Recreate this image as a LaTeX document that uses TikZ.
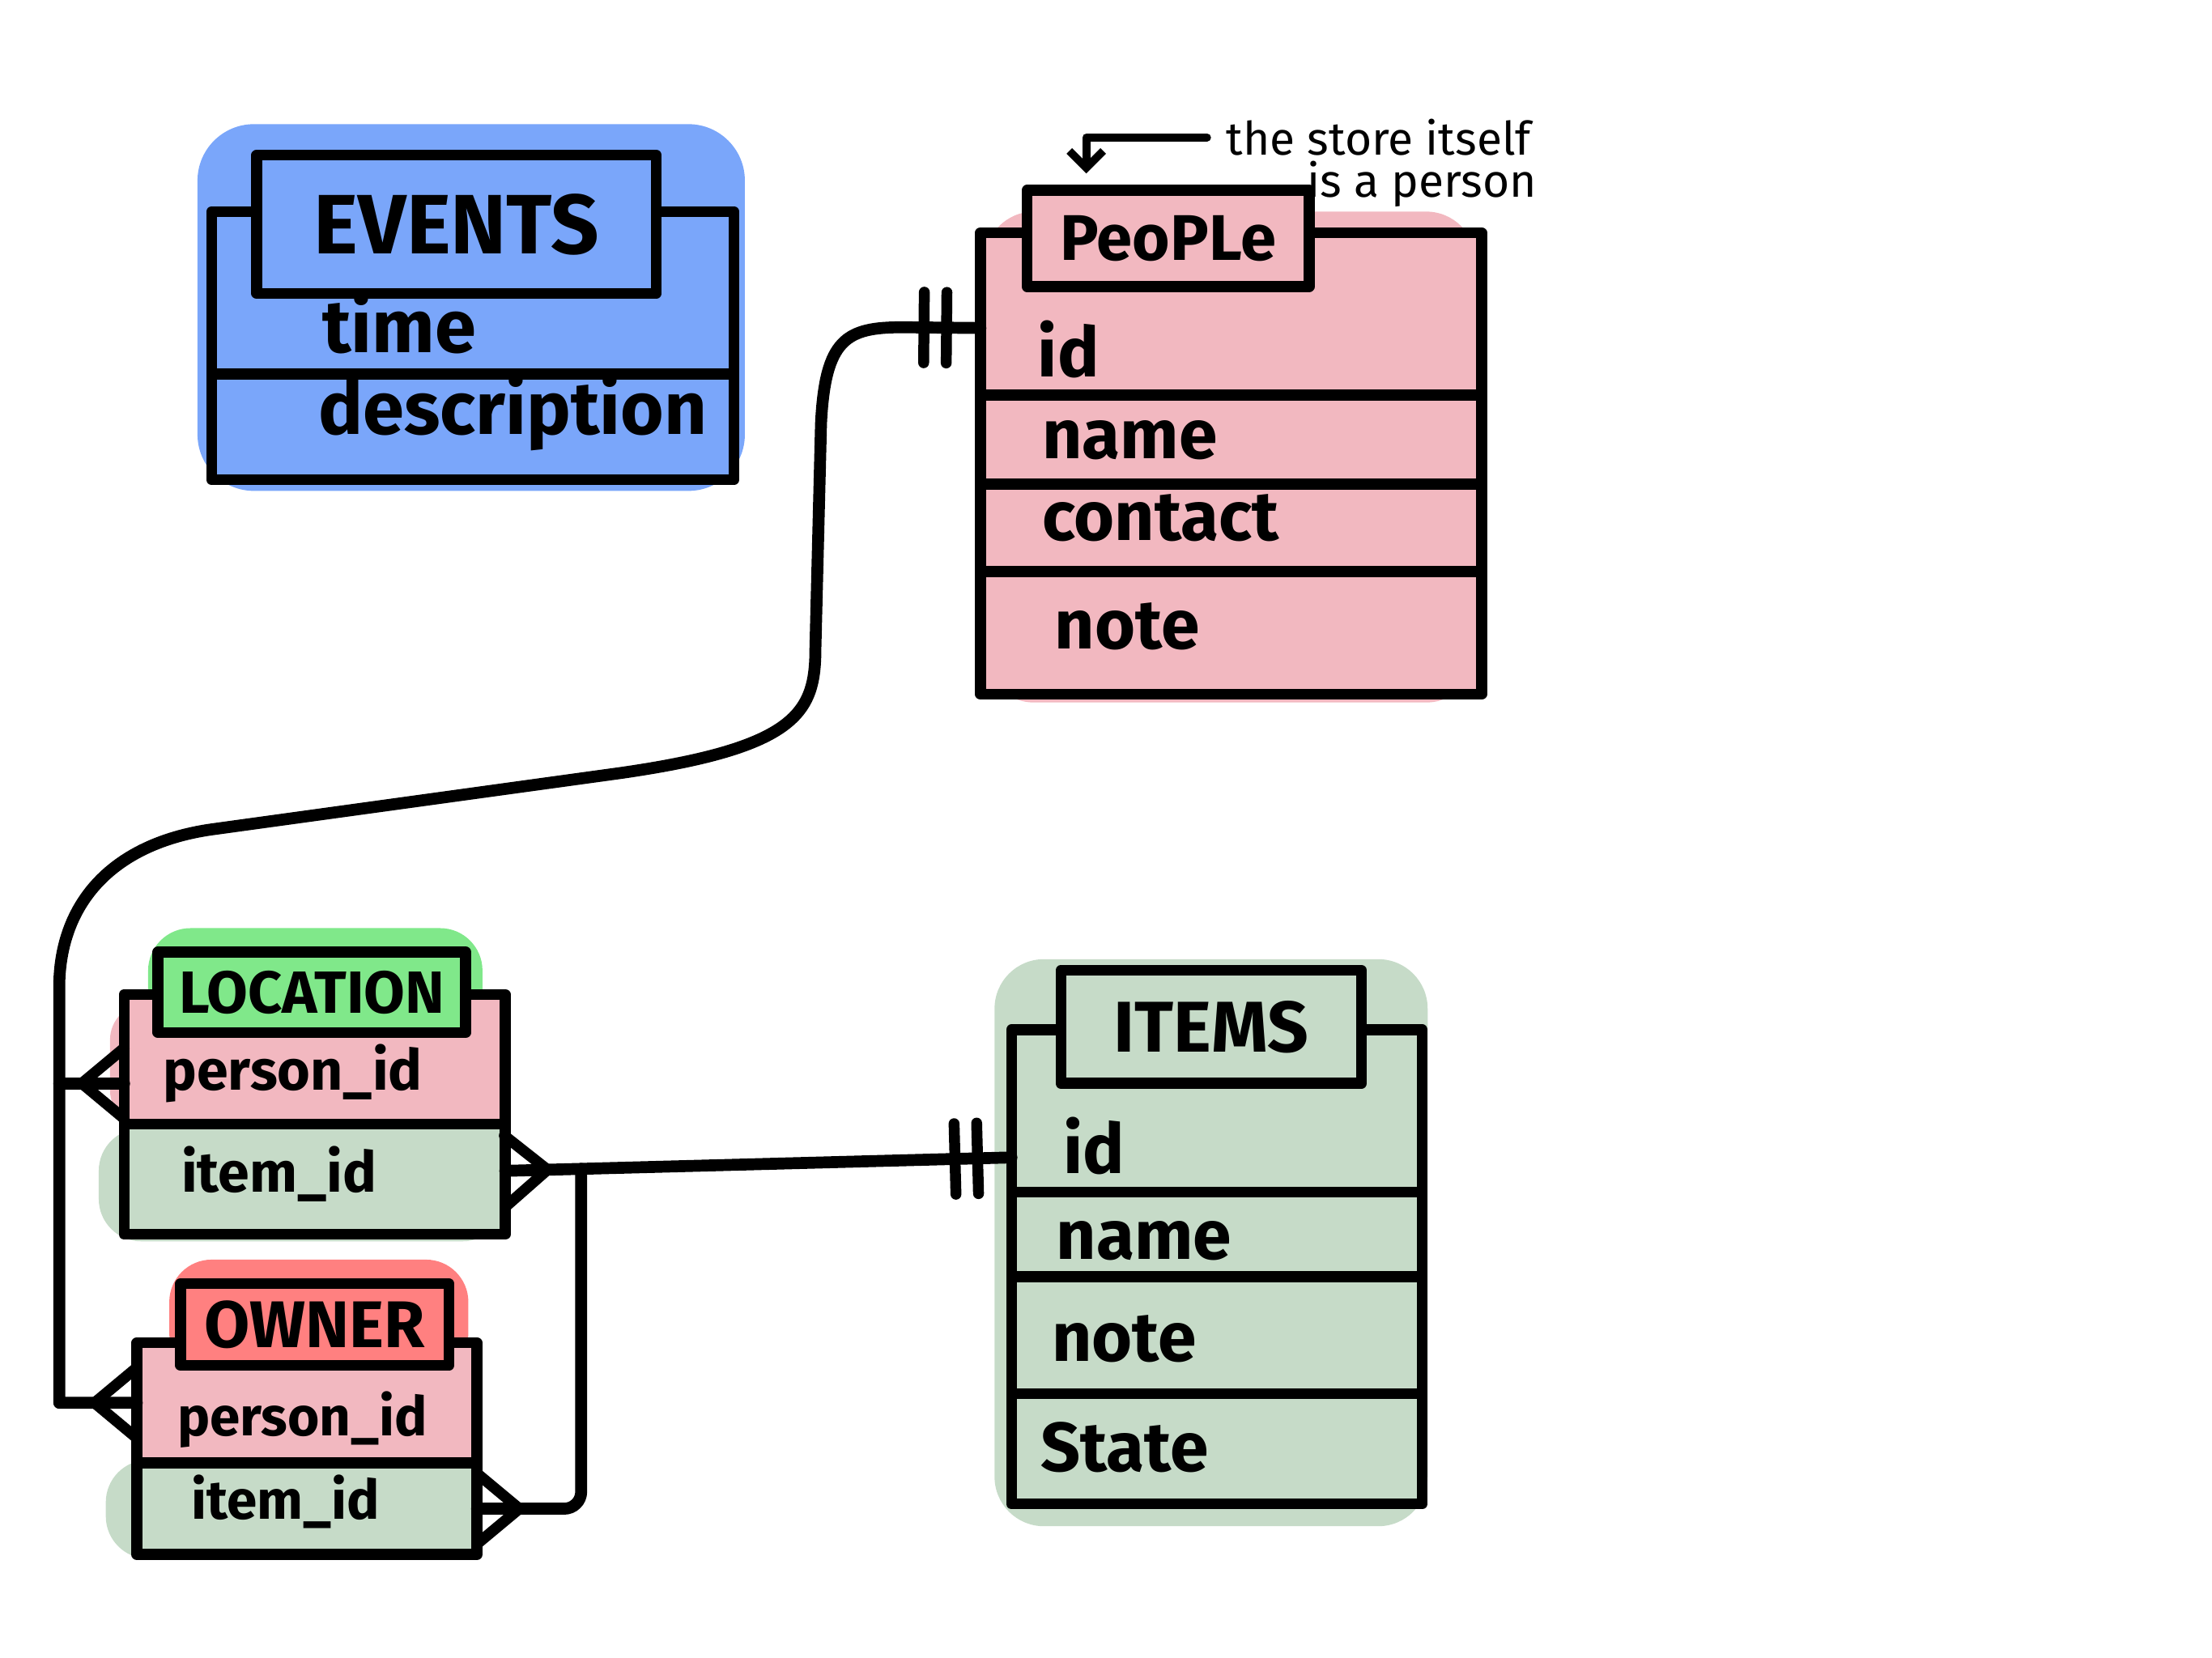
\documentclass[tikz,border=0pt]{standalone}
\usepackage{fontspec}
\setmainfont{Fira Sans}
\usepackage{tikz}
\usetikzlibrary{ arrows.meta, calc, positioning, decorations.markings }
\definecolor{evblue}{RGB}{122,166,250}
\definecolor{ppink}{RGB}{242,184,192}
\definecolor{sage}{RGB}{198,219,200}
\definecolor{locgreen}{RGB}{128,232,138}
\definecolor{ownred}{RGB}{255,128,128}
\tikzset{
ink/.style={line width=2.2pt, line join=round, line cap=round}, % marker stroke
row/.style={draw, ink, inner sep=0pt, outer sep=0pt, anchor=north west}, % one row of a table
hdr/.style={draw, ink, inner sep=0pt, outer sep=0pt, anchor=north west,
  font=\bfseries\fontsize{#1}{#1}\selectfont}, % table name box
fld/.style={anchor=base west, inner sep=0pt, font=\bfseries\fontsize{#1}{#1}\selectfont},
conn/.style={ink, line width=2.4pt},
% many end: crow's foot at the start of the connector
crow/.style={postaction={decorate, decoration={markings,
  mark=at position 0.3cm with {\draw[ink, sharp corners] (-0.3cm,0.25cm) -- (0cm,0cm) -- (-0.3cm,-0.25cm);}}}},
% one and only one: two bars at the end of the connector
onlyone/.style={postaction={decorate, decoration={markings,
  mark=at position -0.4cm with {\draw[ink] (0cm,-0.25cm) -- (0cm,0.25cm);},
  mark=at position -0.24cm with {\draw[ink] (0cm,-0.25cm) -- (0cm,0.25cm);}}}},
}

\begin{document}
\begin{tikzpicture}[x=0.01cm, y=-0.01cm]% units are pixels of the sketch
  \useasboundingbox (0,0) rectangle (1568,1175);

  % colour blobs
  \fill[evblue, rounded corners=0.4cm] (140,88) rectangle (528,348);
  \fill[ppink, rounded corners=0.35cm] (698,150) rectangle (1046,498);
  \fill[sage, rounded corners=0.35cm] (705,680) rectangle (1012,1082);
  \fill[locgreen, rounded corners=0.3cm] (105,658) rectangle (342,740);
  \fill[ppink, rounded corners=0.25cm] (78,712) rectangle (360,798);
  \fill[sage, rounded corners=0.3cm] (70,800) rectangle (358,880);
  \fill[ownred, rounded corners=0.3cm] (120,893) rectangle (332,975);
  \fill[sage, rounded corners=0.3cm] (75,1035) rectangle (338,1105);

  % events
  \node[row, fill=evblue, minimum width=3.70cm, minimum height=1.15cm] (ev-time) at (150,150) {};
  \node[row, fill=evblue, minimum width=3.70cm, minimum height=0.75cm, below=0pt of ev-time] (ev-desc) {};
  \node[hdr=17, fill=evblue, minimum width=2.83cm, minimum height=0.98cm] (ev-title) at (182,110) {EVENTS};
  \node[fld=15] (ev-time-t) at (228,250) {time};
  \node[fld=15] (ev-desc-t) at (225,308) {description};

  % people
  \node[row, fill=ppink, minimum width=3.55cm, minimum height=1.15cm] (p-id) at (695,165) {};
  \node[row, fill=ppink, minimum width=3.55cm, minimum height=0.63cm, below=0pt of p-id] (p-name) {};
  \node[row, fill=ppink, minimum width=3.55cm, minimum height=0.62cm, below=0pt of p-name] (p-contact) {};
  \node[row, fill=ppink, minimum width=3.55cm, minimum height=0.87cm, below=0pt of p-contact] (p-note) {};
  \node[hdr=13, fill=ppink, minimum width=2.00cm, minimum height=0.68cm] (p-title) at (728,135) {PeoPLe};
  \node[fld=14] (p-id-t) at (735,267) {id};
  \node[fld=14] (p-name-t) at (738,325) {name};
  \node[fld=14] (p-contact-t) at (738,383) {contact};
  \node[fld=14] (p-note-t) at (747,460) {note};

  \node[anchor=base east, inner sep=0pt, font=\fontsize{9.3}{11}\selectfont] (note) at (1086,110) {the store itself};
  \node[anchor=base east, inner sep=0pt, font=\fontsize{9.3}{11}\selectfont] (note2) at (1090,140) {is a person};
  \draw[ink, line width=1.6pt, -{Straight Barb[length=0.12cm]}] ([xshift=-0.13cm]note.west) -| ([xshift=0.42cm, yshift=0.12cm]p-title.north west);

  % items
  \node[row, fill=sage, minimum width=2.91cm, minimum height=1.15cm] (i-id) at (717,730) {};
  \node[row, fill=sage, minimum width=2.91cm, minimum height=0.60cm, below=0pt of i-id] (i-name) {};
  \node[row, fill=sage, minimum width=2.91cm, minimum height=0.83cm, below=0pt of i-name] (i-note) {};
  \node[row, fill=sage, minimum width=2.91cm, minimum height=0.78cm, below=0pt of i-note] (i-state) {};
  \node[hdr=14.5, fill=sage, minimum width=2.13cm, minimum height=0.80cm] (i-title) at (752,688) {ITEMS};
  \node[fld=14] (i-id-t) at (753,832) {id};
  \node[fld=14] (i-name-t) at (748,893) {name};
  \node[fld=14] (i-note-t) at (745,965) {note};
  \node[fld=14] (i-state-t) at (737,1043) {State};

  % location
  \node[row, fill=ppink, minimum width=2.70cm, minimum height=0.92cm] (l-person) at (88,705) {};
  \node[row, fill=sage, minimum width=2.70cm, minimum height=0.78cm, below=0pt of l-person] (l-item) {};
  \node[hdr=12, fill=locgreen, minimum width=2.18cm, minimum height=0.57cm] (l-title) at (112,675) {LOCATION};
  \node[fld=11.4] (l-person-t) at (115,773) {person\_id};
  \node[fld=11.4] (l-item-t) at (128,845) {item\_id};

  % owner
  \node[row, fill=ppink, minimum width=2.41cm, minimum height=0.85cm] (o-person) at (97,952) {};
  \node[row, fill=sage, minimum width=2.41cm, minimum height=0.65cm, below=0pt of o-person] (o-item) {};
  \node[hdr=13.3, fill=ownred, minimum width=1.90cm, minimum height=0.58cm] (o-title) at (128,910) {OWNER};
  \node[fld=11] (o-person-t) at (125,1018) {person\_id};
  \node[fld=11] (o-item-t) at (135,1077) {item\_id};

  % relations
  \coordinate (trunk) at (42,700);
  \coordinate (lp) at ([yshift=-0.17cm]l-person.west);
  \draw[conn, crow, onlyone] (o-person.west) -- (trunk |- o-person.west) -- (trunk)
    .. controls (42,640) and (80,598) .. (150,588) -- (440,548)
    .. controls (565,530) and (578,505) .. (578,460) -- (582,300)
    .. controls (585,240) and (600,232) .. (640,232) -- ([yshift=-0.1cm]p-id.west);
  \draw[conn, crow] (lp) -- (lp -| trunk);

  \coordinate (lie) at ([yshift=0.06cm]l-item.east);
  \coordinate (iid) at ([yshift=-0.33cm]i-id.west);
  \coordinate (jn) at ($(lie)!0.15!(iid)$);
  \draw[conn, crow, onlyone] (lie) -- (iid);
  \draw[conn, crow, rounded corners=0.12cm] (o-item.east) -| (jn);
\end{tikzpicture}
\end{document}
